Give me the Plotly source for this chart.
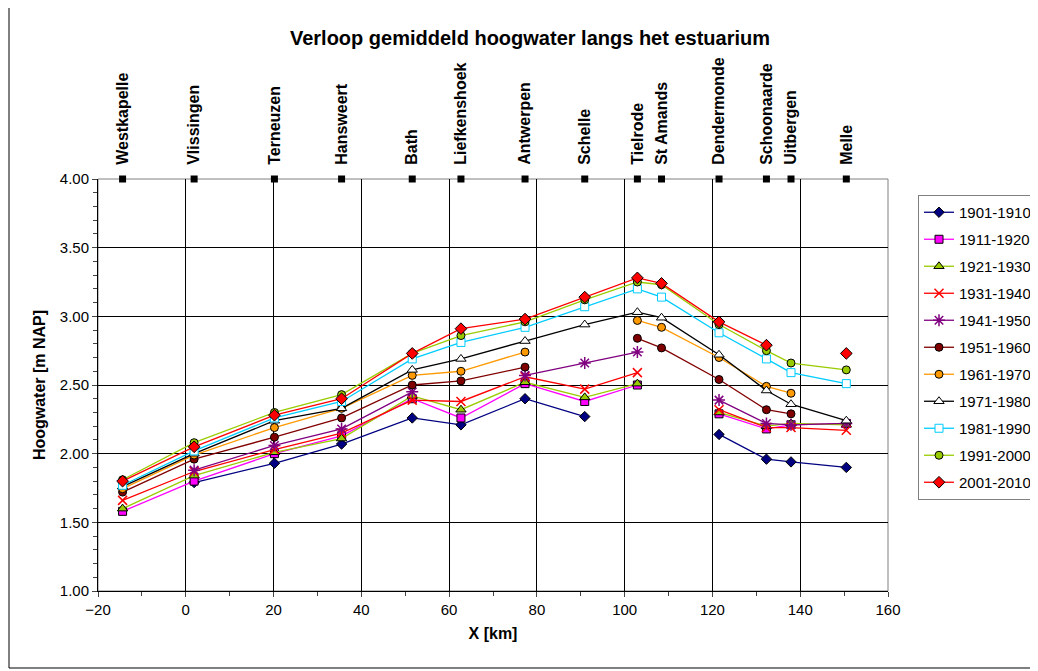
import plotly.graph_objects as go

# Stations along the estuary and their distance (km)
stations = ["Westkapelle", "Vlissingen", "Terneuzen", "Hansweert", "Bath", "Liefkenshoek",
            "Antwerpen", "Schelle", "Tielrode", "St Amands", "Dendermonde", "Schoonaarde",
            "Uitbergen", "Melle"]
station_km = [-14.4, 1.9, 20.2, 35.5, 51.6, 62.7, 77.3, 90.9, 102.9, 108.4, 121.5, 132.3, 137.9, 150.5]

# Mean high water [m NAP] per decade (None = no data)
hw_1901_1910 = [None, 1.79, 1.93, 2.07, 2.26, 2.21, 2.40, 2.27, None, None, 2.14, 1.96, 1.94, 1.90]
hw_1911_1920 = [1.58, 1.80, 2.00, 2.13, 2.40, 2.26, 2.51, 2.38, 2.50, None, 2.29, 2.18, 2.21, 2.22]
hw_1921_1930 = [1.60, 1.84, 2.01, 2.11, 2.42, 2.32, 2.52, 2.41, 2.51, None, 2.30, 2.20, 2.22, 2.21]
hw_1931_1940 = [1.66, 1.87, 2.03, 2.15, 2.39, 2.38, 2.56, 2.47, 2.59, None, 2.32, 2.19, 2.19, 2.17]
hw_1941_1950 = [None, 1.88, 2.06, 2.18, 2.45, None, 2.57, 2.66, 2.74, None, 2.39, 2.22, 2.21, 2.22]
hw_1951_1960 = [1.72, 1.96, 2.12, 2.26, 2.50, 2.53, 2.63, None, 2.84, 2.77, 2.54, 2.32, 2.29, None]
hw_1961_1970 = [1.745, 1.99, 2.19, 2.33, 2.57, 2.60, 2.74, None, 2.97, 2.92, 2.70, 2.49, 2.44, None]
hw_1971_1980 = [1.76, 2.00, 2.24, 2.33, 2.61, 2.69, 2.82, 2.94, 3.03, 2.99, 2.72, 2.46, 2.36, 2.24]
hw_1981_1990 = [1.77, 2.02, 2.26, 2.38, 2.69, 2.81, 2.92, 3.07, 3.20, 3.14, 2.88, 2.69, 2.59, 2.51]
hw_1991_2000 = [1.81, 2.08, 2.30, 2.43, 2.73, 2.86, 2.96, 3.12, 3.25, 3.23, 2.94, 2.75, 2.66, 2.61]
hw_2001_2010 = [1.80, 2.05, 2.28, 2.40, 2.73, 2.91, 2.98, 3.14, 3.28, 3.24, 2.96, 2.79, None, 2.73]

periods = ["1901-1910", "1911-1920", "1921-1930", "1931-1940", "1941-1950", "1951-1960",
           "1961-1970", "1971-1980", "1981-1990", "1991-2000", "2001-2010"]
series = [hw_1901_1910, hw_1911_1920, hw_1921_1930, hw_1931_1940, hw_1941_1950, hw_1951_1960,
          hw_1961_1970, hw_1971_1980, hw_1981_1990, hw_1991_2000, hw_2001_2010]

# line colour, marker symbol, marker fill, marker outline, marker size
styles = [
    ("#000080", "diamond", "#000080", "#000000", 8),
    ("#FF00FF", "square", "#FF00FF", "#000000", 8),
    ("#99CC00", "triangle-up", "#99CC00", "#000000", 9),
    ("#FF0000", "x-thin", "#FF0000", "#FF0000", 9),
    ("#800080", "asterisk", "#800080", "#800080", 10),
    ("#800000", "circle", "#800000", "#000000", 8),
    ("#FF9900", "circle", "#FF9900", "#000000", 8),
    ("#000000", "triangle-up", "#FFFFFF", "#000000", 9),
    ("#00CCFF", "square", "#FFFFFF", "#00CCFF", 8),
    ("#99CC00", "circle", "#99CC00", "#000000", 8),
    ("#FF0000", "diamond", "#FF0000", "#000000", 9),
]

FONT = "Liberation Sans, Arial, sans-serif"

# the page body adds an 8px offset, so the figure is sized/margined to compensate
W, H = 1030, 663
L, R, T, B = 90, 150, 171, 80
PW, PH = W - L - R, H - T - B

fig = go.Figure()

for name, vals, (lc, sym, fill, edge, size) in zip(periods, series, styles):
    fig.add_trace(go.Scatter(
        x=station_km, y=vals, name=name, legendgroup=name,
        mode="lines+markers", connectgaps=False,
        line=dict(color=lc, width=1.3),
        marker=dict(symbol=sym, color=fill, size=size,
                    line=dict(color=edge, width=1.5 if sym in ("x-thin", "asterisk") else 1)),
    ))

# station markers on the top edge
fig.add_trace(go.Scatter(
    x=station_km, y=[4.0] * len(station_km), mode="markers", showlegend=False,
    marker=dict(symbol="square", color="black", size=7), cliponaxis=False,
    hoverinfo="skip", xaxis="x2",
))

fig.update_layout(
    width=W, height=H,
    margin=dict(l=L, r=R, t=T, b=B, autoexpand=False),
    paper_bgcolor="white", plot_bgcolor="white",
    font=dict(family=FONT, size=15, color="black"),
    title=dict(text="<b>Verloop gemiddeld hoogwater langs het estuarium</b>",
               x=522 / W, xanchor="center", xref="container",
               y=1 - 30 / H, yanchor="middle", yref="container",
               font=dict(size=20)),
    xaxis=dict(range=[-20, 160], dtick=20, showgrid=True, gridcolor="#000000", gridwidth=1,
               zeroline=False, showline=True, linecolor="black", ticks="outside", ticklen=5,
               tickfont=dict(size=15),
               minor=dict(dtick=10, ticks="outside", ticklen=4, showgrid=False),
               title=dict(text="<b>X [km]</b>", standoff=10, font=dict(size=16))),
    xaxis2=dict(range=[-20, 160], overlaying="x", side="top", tickmode="array",
                tickvals=station_km, ticktext=["<b>" + s + "</b>" for s in stations],
                tickangle=-90, showgrid=False, zeroline=False, showline=False,
                ticks="outside", ticklen=10, tickcolor="rgba(0,0,0,0)",
                tickfont=dict(size=16)),
    yaxis=dict(range=[1, 4], dtick=0.5, tickformat=".2f", showgrid=True, gridcolor="#000000",
               gridwidth=1, zeroline=False, showline=True, linecolor="black",
               ticks="outside", ticklen=5, tickfont=dict(size=15),
               minor=dict(dtick=0.1, ticks="outside", ticklen=4, showgrid=False),
               title=dict(text="<b>Hoogwater [m NAP]</b>", standoff=10, font=dict(size=16))),
    legend=dict(x=(910 - L) / PW, y=(H - B - 187) / PH, xanchor="left", yanchor="top",
                bordercolor="#808080", borderwidth=1, bgcolor="white",
                traceorder="grouped", tracegroupgap=4.5, font=dict(size=15)),
    showlegend=True,
)

# grey frame around the plot area
fig.add_shape(type="rect", xref="paper", yref="paper", x0=0, x1=1, y0=0, y1=1,
              line=dict(color="#808080", width=1), layer="below")
# outer chart border (left and bottom)
fig.add_shape(type="line", xref="paper", yref="paper", x0=-(L - 1) / PW, x1=-(L - 1) / PW,
              y0=-(B - 3) / PH, y1=(PH + T) / PH, line=dict(color="black", width=1))
fig.add_shape(type="line", xref="paper", yref="paper", x0=-(L - 1) / PW, x1=(W - L) / PW,
              y0=-(B - 3) / PH, y1=-(B - 3) / PH, line=dict(color="black", width=1))

fig.write_html("out.html")
